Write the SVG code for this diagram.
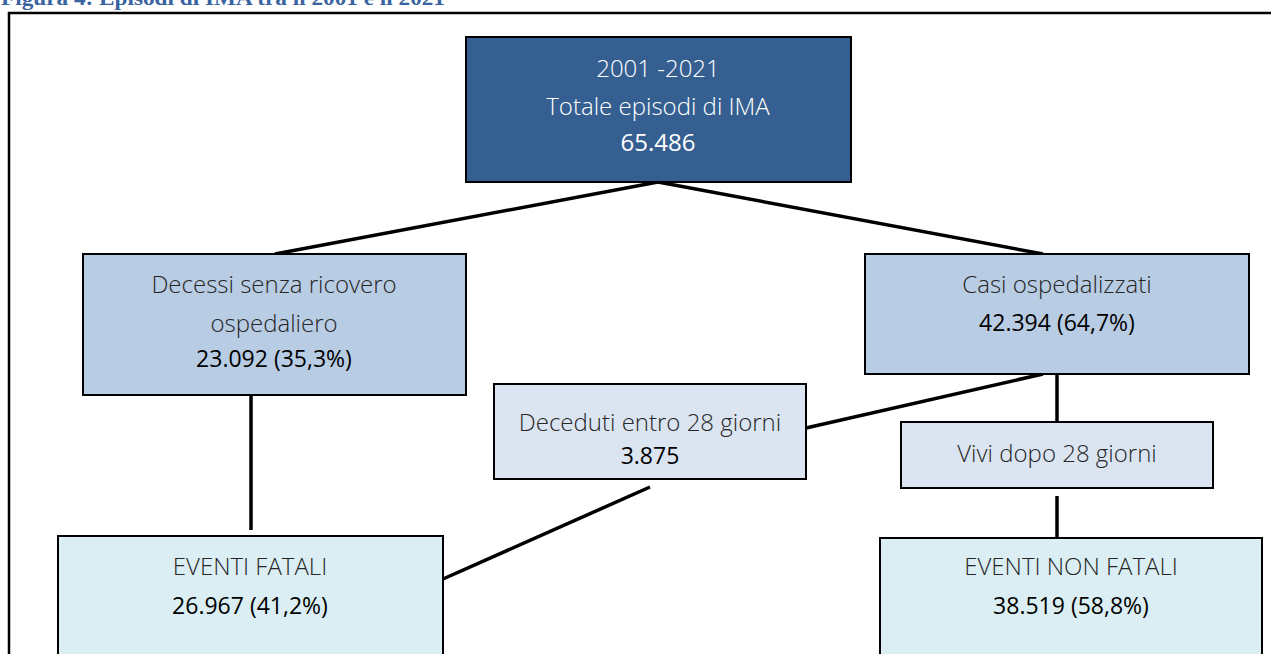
<svg xmlns="http://www.w3.org/2000/svg" width="1271" height="654" viewBox="0 0 1271 654">
<style>
.t{font-family:"Open Sans","Noto Sans","Liberation Sans",sans-serif;font-size:24px;text-anchor:middle;dominant-baseline:central}
.l{font-weight:300;fill:#262626}
.b{font-weight:400;fill:#000;font-size:23px}
.box{stroke:#000;stroke-width:2}
.con line{stroke:#000;stroke-width:3.5;stroke-linecap:butt}
</style>
<rect width="1271" height="654" fill="#fff"/>
<text x="1" y="5" font-family="'Liberation Serif',serif" font-weight="bold" font-size="21" fill="#3a64a0" textLength="444" lengthAdjust="spacingAndGlyphs">Figura 4: Episodi di IMA tra il 2001 e il 2021</text>
<rect x="9" y="13" width="1280" height="660" fill="none" stroke="#000" stroke-width="2.5"/>
<g class="con" id="connectors">
<line x1="658" y1="182" x2="275" y2="254"/>
<line x1="658" y1="182" x2="1043" y2="254"/>
<line x1="1043" y1="374" x2="806" y2="428"/>
<line x1="1057" y1="374" x2="1057" y2="422"/>
<line x1="1057" y1="496" x2="1057" y2="538"/>
<line x1="251" y1="395" x2="251" y2="530"/>
<line x1="650" y1="487" x2="443" y2="579"/>
</g>
<g id="top">
<rect class="box" x="466" y="37" width="385" height="145" fill="#365f91"/>
<text class="t" x="658" y="67" font-weight="300" fill="#fff">2001 -2021</text>
<text class="t" x="658" y="105" font-weight="300" fill="#fff">Totale episodi di IMA</text>
<text class="t" x="658" y="141" font-weight="400" font-size="23" fill="#fff">65.486</text>
</g>
<g id="decessi">
<rect class="box" x="83" y="254" width="383" height="141" fill="#b8cce4"/>
<text class="t l" x="274" y="283">Decessi senza ricovero</text>
<text class="t l" x="274" y="322">ospedaliero</text>
<text class="t b" x="274" y="358">23.092 (35,3%)</text>
</g>
<g id="casi">
<rect class="box" x="865" y="254" width="384" height="120" fill="#b8cce4"/>
<text class="t l" x="1057" y="283">Casi ospedalizzati</text>
<text class="t b" x="1057" y="322">42.394 (64,7%)</text>
</g>
<g id="deceduti">
<rect class="box" x="494" y="384" width="312" height="95" fill="#dbe5f1"/>
<text class="t l" x="650" y="421">Deceduti entro 28 giorni</text>
<text class="t b" x="650" y="455">3.875</text>
</g>
<g id="vivi">
<rect class="box" x="901" y="422" width="312" height="66" fill="#dbe5f1"/>
<text class="t l" x="1057" y="452">Vivi dopo 28 giorni</text>
</g>
<g id="fatali">
<rect class="box" x="58" y="536" width="385" height="140" fill="#daeef3"/>
<text class="t l" x="250" y="565">EVENTI FATALI</text>
<text class="t b" x="250" y="605">26.967 (41,2%)</text>
</g>
<g id="nonfatali">
<rect class="box" x="880" y="538" width="382" height="140" fill="#daeef3"/>
<text class="t l" x="1071" y="565">EVENTI NON FATALI</text>
<text class="t b" x="1071" y="605">38.519 (58,8%)</text>
</g>
</svg>
